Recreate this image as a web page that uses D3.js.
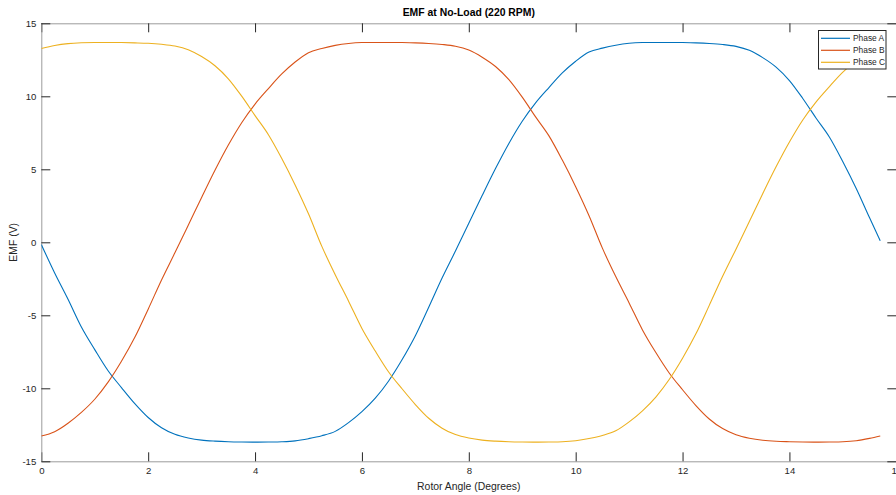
<!DOCTYPE html>
<html>
<head>
<meta charset="utf-8">
<script src="https://cdn.jsdelivr.net/npm/d3@7"></script>
<style>
  html, body { margin: 0; padding: 0; background: #fff; }
  svg { display: block; font-family: "Liberation Sans", Arial, Helvetica, sans-serif; }
</style>
</head>
<body>
<svg id="chart" width="896" height="495"></svg>
<script>
// Rotor angle samples (degrees)
const angles = [
  0, 0.25, 0.5, 0.75, 1, 1.25, 1.5, 1.75, 2, 2.25, 2.5, 2.75, 3, 3.25, 3.5, 3.75,
  4, 4.25, 4.5, 4.75, 5, 5.25, 5.5, 5.75, 6, 6.25, 6.5, 6.75, 7, 7.25, 7.5, 7.75,
  8, 8.25, 8.5, 8.75, 9, 9.25, 9.5, 9.75, 10, 10.25, 10.5, 10.75, 11, 11.25, 11.5, 11.75,
  12, 12.25, 12.5, 12.75, 13, 13.25, 13.5, 13.75, 14, 14.25, 14.5, 14.75, 15, 15.25, 15.5, 15.7
];

// Back-EMF per phase (V)
const phaseA = [
  -0.15, -2.1, -3.9, -5.8, -7.35, -8.8, -9.95, -11.05, -12.0, -12.7, -13.15, -13.4, -13.55, -13.62, -13.66, -13.68,
  -13.69, -13.68, -13.66, -13.6, -13.45, -13.25, -12.95, -12.35, -11.6, -10.68, -9.5, -8.05, -6.4, -4.45, -2.45, -0.6,
  1.3, 3.2, 5.05, 6.77, 8.29, 9.55, 10.6, 11.6, 12.4, 13.03, 13.3, 13.5, 13.63, 13.68, 13.69, 13.69,
  13.68, 13.66, 13.62, 13.55, 13.42, 13.15, 12.65, 12.0, 11.08, 9.85, 8.5, 7.2, 5.52, 3.69, 1.68, 0.1
];
const phaseB = [
  -13.27, -12.97, -12.39, -11.65, -10.75, -9.58, -8.15, -6.51, -4.58, -2.58, -0.72, 1.17, 3.07, 4.93, 6.66, 8.19,
  9.47, 10.53, 11.53, 12.35, 12.99, 13.28, 13.49, 13.62, 13.68, 13.69, 13.69, 13.68, 13.66, 13.62, 13.55, 13.43,
  13.17, 12.68, 12.04, 11.14, 9.94, 8.59, 7.29, 5.63, 3.81, 1.82, -0.4, -2.35, -4.15, -6.0, -7.55, -8.95,
  -10.1, -11.18, -12.1, -12.76, -13.18, -13.42, -13.56, -13.63, -13.66, -13.68, -13.69, -13.68, -13.66, -13.59, -13.43, -13.27
];
const phaseC = [
  13.27, 13.48, 13.61, 13.67, 13.69, 13.69, 13.68, 13.66, 13.63, 13.56, 13.44, 13.19, 12.72, 12.09, 11.2, 10.01,
  8.68, 7.37, 5.74, 3.93, 1.95, -0.28, -2.22, -4.03, -5.9, -7.45, -8.88, -10.03, -11.11, -12.05, -12.73, -13.17,
  -13.41, -13.55, -13.62, -13.66, -13.68, -13.69, -13.68, -13.66, -13.59, -13.44, -13.23, -12.91, -12.3, -11.54, -10.6, -9.4,
  -7.94, -6.27, -4.32, -2.33, -0.47, 1.43, 3.33, 5.17, 6.87, 8.38, 9.62, 10.67, 11.65, 12.44, 13.05, 13.27
];

const seriesNames = ["Phase A", "Phase B", "Phase C"];
const seriesColors = ["#0072BD", "#D95319", "#EDB120"];
const xTicks = [0, 2, 4, 6, 8, 10, 12, 14, 16];
const yTicks = [-15, -10, -5, 0, 5, 10, 15];

const svg = d3.select("#chart");
const margin = { left: 41.3, right: 896.3, top: 23.3, bottom: 461.3 };

const x = d3.scaleLinear().domain([0, 16]).range([margin.left, margin.right]);
const y = d3.scaleLinear().domain([-15, 15]).range([margin.bottom, margin.top]);

const ink = "#262626";
const axisGrey = "#9c9c9c";
const tickFont = "9.6px";

// clip lines to the axes box
svg.append("defs").append("clipPath").attr("id", "plotClip")
  .append("rect")
  .attr("x", margin.left).attr("y", margin.top)
  .attr("width", margin.right - margin.left).attr("height", margin.bottom - margin.top);

function styleAxis(g) {
  g.select(".domain").attr("stroke", axisGrey).attr("stroke-width", 1);
  g.selectAll(".tick line").attr("stroke", ink).attr("stroke-width", 1);
  g.selectAll(".tick text").attr("fill", ink).style("font-size", tickFont);
}

// bottom axis with labels
svg.append("g")
  .attr("transform", `translate(0,${margin.bottom})`)
  .call(d3.axisBottom(x).tickValues(xTicks).tickSizeInner(-9).tickSizeOuter(0)
    .tickPadding(6).tickFormat(d => String(d)))
  .call(styleAxis);

// top axis (box)
svg.append("g")
  .attr("transform", `translate(0,${margin.top})`)
  .call(d3.axisTop(x).tickValues(xTicks).tickSizeInner(-9).tickSizeOuter(0).tickFormat(""))
  .call(styleAxis);

// left axis with labels
svg.append("g")
  .attr("transform", `translate(${margin.left},0)`)
  .call(d3.axisLeft(y).tickValues(yTicks).tickSizeInner(-9).tickSizeOuter(0)
    .tickPadding(5).tickFormat(d => String(d)))
  .call(styleAxis);

// right axis (box)
svg.append("g")
  .attr("transform", `translate(${margin.right},0)`)
  .call(d3.axisRight(y).tickValues(yTicks).tickSizeInner(-9).tickSizeOuter(0).tickFormat(""))
  .call(styleAxis);

// phase curves
const series = [phaseA, phaseB, phaseC];
const line = d3.line()
  .x((d, i) => x(angles[i]))
  .y(d => y(d))
  .curve(d3.curveMonotoneX);

svg.append("g").attr("clip-path", "url(#plotClip)")
  .selectAll("path")
  .data(series)
  .join("path")
  .attr("d", d => line(d))
  .attr("fill", "none")
  .attr("stroke", (d, i) => seriesColors[i])
  .attr("stroke-width", 1.1)
  .attr("stroke-linejoin", "round");

// title and axis labels
svg.append("text")
  .attr("x", (margin.left + margin.right) / 2)
  .attr("y", 15.5)
  .attr("text-anchor", "middle")
  .attr("fill", "#000")
  .style("font-size", "10.4px")
  .style("font-weight", "bold")
  .text("EMF at No-Load (220 RPM)");

svg.append("text")
  .attr("x", (margin.left + margin.right) / 2)
  .attr("y", 489.5)
  .attr("text-anchor", "middle")
  .attr("fill", ink)
  .style("font-size", "10.4px")
  .text("Rotor Angle (Degrees)");

svg.append("text")
  .attr("transform", `translate(17,${(margin.top + margin.bottom) / 2}) rotate(-90)`)
  .attr("text-anchor", "middle")
  .attr("fill", ink)
  .style("font-size", "10.4px")
  .text("EMF (V)");

// legend
const lg = svg.append("g");
lg.append("rect")
  .attr("x", 818.5).attr("y", 30.5)
  .attr("width", 67.5).attr("height", 38.5)
  .attr("fill", "#fff")
  .attr("stroke", ink)
  .attr("stroke-width", 1);

const rowY = d3.scalePoint().domain(seriesNames).range([38.3, 62.3]);
seriesNames.forEach((name, i) => {
  lg.append("line")
    .attr("x1", 821).attr("x2", 850)
    .attr("y1", rowY(name)).attr("y2", rowY(name))
    .attr("stroke", seriesColors[i])
    .attr("stroke-width", 1.2);
  lg.append("text")
    .attr("x", 853).attr("y", rowY(name))
    .attr("dy", "0.35em")
    .attr("fill", ink)
    .style("font-size", "8.4px")
    .text(name);
});
</script>
</body>
</html>
